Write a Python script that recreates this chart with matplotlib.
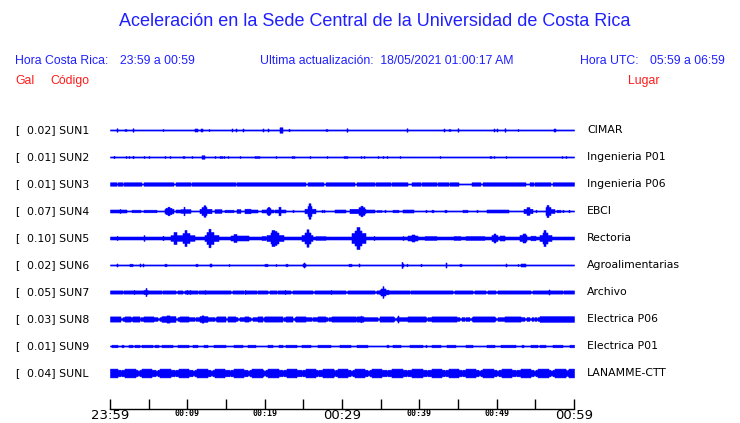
import numpy as np
import matplotlib
matplotlib.use("Agg")
import matplotlib.pyplot as plt
from matplotlib.transforms import blended_transform_factory

# ---------------- data ----------------
codes = ["SUN1", "SUN2", "SUN3", "SUN4", "SUN5", "SUN6", "SUN7", "SUN8", "SUN9", "SUNL"]
gal_max = ["0.02", "0.01", "0.01", "0.07", "0.10", "0.02", "0.05", "0.03", "0.01", "0.04"]
places = ["CIMAR", "Ingenieria P01", "Ingenieria P06", "EBCI", "Rectoria",
          "Agroalimentarias", "Archivo", "Electrica P06", "Electrica P01", "LANAMME-CTT"]

tick_minutes = [0, 5, 10, 15, 20, 25, 30, 35, 40, 45, 50, 55, 60]
tick_labels = ["23:59", "", "00:09", "", "00:19", "", "00:29", "", "00:39", "", "00:49", "", "00:59"]

# trace envelopes: background half-amplitude (px) and events (start min, end min, half-amplitude px)
sun1_base = 0.55
sun1_events = [(0.95, 0.95, 1.7), (1.9, 2.0, 1.0), (3.0, 3.0, 1.7), (6.8, 6.8, 1.0), (11.0, 11.2, 1.5),
               (11.8, 11.9, 1.5), (12.8, 12.8, 1.0), (15.8, 15.8, 1.5), (16.3, 16.3, 1.5), (17.2, 17.2, 1.5),
               (19.8, 19.8, 1.5), (20.4, 20.4, 1.5), (22.0, 22.2, 2.7), (23.1, 23.1, 1.3), (28.0, 28.0, 1.0),
               (30.7, 30.7, 1.7), (38.4, 38.4, 1.7), (43.2, 43.2, 1.5), (43.9, 43.9, 1.0), (45.0, 45.0, 1.7),
               (49.6, 49.6, 1.5), (50.1, 50.1, 1.5), (51.1, 51.1, 1.7), (52.7, 52.7, 1.0), (57.4, 57.6, 1.5)]

sun2_base = 0.55
sun2_events = [(0.56, 0.56, 1.2), (2.1, 2.1, 1.0), (2.5, 2.5, 1.0), (3.0, 3.0, 1.3), (4.4, 4.4, 1.0),
               (5.0, 5.0, 1.0), (7.1, 7.1, 1.0), (7.7, 7.7, 1.0), (9.4, 9.4, 1.0), (9.6, 9.6, 1.0),
               (10.6, 10.6, 1.0), (11.9, 12.2, 1.7), (13.6, 13.6, 1.0), (14.2, 14.5, 1.0), (14.7, 14.7, 1.0),
               (15.3, 15.3, 1.0), (16.8, 16.8, 1.0), (18.8, 19.3, 1.0), (21.5, 21.5, 1.0), (23.6, 23.8, 1.0),
               (25.9, 25.9, 1.0), (28.1, 28.1, 1.0), (30.3, 30.6, 1.0), (32.4, 32.4, 1.0), (32.8, 32.8, 1.0),
               (34.7, 34.7, 1.0), (35.3, 35.3, 1.0), (35.8, 35.8, 1.0), (37.5, 37.5, 1.0), (42.7, 42.7, 1.0),
               (49.2, 49.2, 1.0), (49.6, 49.6, 1.0), (51.2, 51.2, 1.0), (58.5, 58.5, 1.0), (59.0, 59.0, 1.0)]

sun3_base = 0.55
sun3_events = [(0.0, 0.78, 1.7), (1.0, 1.5, 1.7), (1.85, 3.45, 1.7), (3.66, 4.0, 1.7), (4.4, 5.8, 1.7),
               (6.0, 8.2, 1.7), (8.5, 10.3, 1.7), (10.6, 11.2, 1.7), (11.4, 16.2, 1.7), (16.4, 18.3, 1.7),
               (18.5, 22.6, 1.7), (22.8, 25.2, 1.7), (25.6, 27.6, 1.7), (28.0, 31.6, 1.7), (32.0, 34.1, 1.7),
               (34.4, 36.2, 1.7), (36.5, 38.4, 1.7), (39.0, 40.1, 1.7), (40.3, 41.2, 1.7), (41.4, 42.2, 1.7),
               (42.4, 43.7, 1.7), (44.0, 45.0, 1.7), (46.8, 47.8, 1.7), (48.2, 49.1, 1.7), (49.3, 53.7, 1.7),
               (54.3, 54.7, 1.7), (54.9, 56.9, 1.7), (57.3, 60.0, 1.7)]

sun4_base = 0.55
sun4_events = [(0.0, 2.0, 1.5), (1.3, 1.3, 2.0), (2.9, 3.9, 1.3), (4.4, 5.4, 1.3), (5.6, 6.0, 1.3),
               (7.1, 8.2, 2.3), (7.3, 7.9, 3.2), (7.55, 7.65, 4.3), (8.6, 9.2, 1.5), (9.2, 10.3, 1.8),
               (9.6, 9.6, 4.3), (11.6, 13.1, 2.2), (11.95, 12.45, 4.0), (12.15, 12.25, 5.7), (13.6, 14.4, 1.8),
               (14.9, 15.9, 1.3), (16.4, 16.8, 1.8), (17.5, 18.1, 2.3), (18.3, 19.0, 1.5), (19.7, 21.1, 1.5),
               (20.3, 20.7, 2.8), (20.45, 20.55, 4.0), (21.4, 22.6, 1.5), (21.85, 21.95, 4.3), (23.7, 23.7, 1.3),
               (25.2, 26.5, 2.3), (25.55, 26.05, 5.0), (25.75, 25.85, 7.7), (27.4, 27.4, 1.3), (27.7, 27.7, 1.3),
               (29.1, 30.4, 1.5), (31.0, 33.0, 2.2), (32.2, 32.8, 3.8), (32.4, 32.55, 5.3), (33.0, 34.1, 1.5),
               (34.5, 35.0, 1.0), (35.6, 35.6, 1.3), (36.6, 37.3, 1.3), (37.9, 39.2, 1.5), (40.9, 40.9, 1.3),
               (41.7, 41.7, 1.3), (43.3, 43.5, 1.3), (45.6, 46.1, 1.3), (47.4, 47.4, 1.3), (48.7, 51.5, 1.5),
               (53.6, 54.5, 2.2), (53.9, 54.2, 3.8), (55.1, 55.1, 1.3), (56.35, 56.85, 4.0), (56.5, 56.6, 6.0),
               (56.9, 57.4, 2.0), (57.8, 58.2, 1.3), (58.6, 58.6, 1.3), (59.4, 59.4, 1.3)]

sun5_base = 1.5
sun5_events = [(0.86, 0.86, 2.0), (4.4, 4.4, 2.8), (6.9, 6.9, 2.2), (7.9, 9.2, 2.8), (8.3, 8.5, 6.0),
               (9.3, 10.9, 2.8), (9.5, 10.2, 5.0), (9.75, 9.85, 8.0), (12.3, 14.0, 3.0), (12.6, 13.3, 6.0),
               (12.85, 12.95, 9.3), (15.7, 17.9, 2.5), (16.1, 16.3, 4.0), (19.6, 20.0, 2.0), (20.3, 22.4, 3.0),
               (20.8, 21.7, 5.5), (21.0, 21.2, 8.0), (21.4, 21.5, 7.0), (24.8, 26.1, 3.0), (25.25, 25.85, 5.5),
               (25.45, 25.55, 8.7), (26.7, 27.8, 1.8), (31.3, 33.0, 5.0), (31.7, 32.5, 7.5), (32.0, 32.15, 11.0),
               (34.1, 34.1, 2.0), (37.9, 37.9, 2.0), (38.6, 39.7, 2.5), (39.1, 39.3, 3.5), (40.7, 42.2, 1.9),
               (44.5, 45.2, 1.9), (46.1, 48.3, 1.9), (49.4, 50.0, 3.0), (49.6, 49.8, 4.5), (50.4, 50.9, 2.5),
               (53.0, 53.8, 3.0), (53.4, 53.6, 4.5), (54.5, 54.9, 2.3), (55.6, 57.0, 3.0), (55.95, 56.5, 5.5),
               (56.1, 56.25, 8.0)]

sun6_base = 0.55
sun6_events = [(0.86, 0.86, 1.5), (2.6, 2.8, 1.3), (3.9, 3.9, 1.5), (4.3, 4.3, 1.5), (7.1, 7.3, 1.3),
               (11.1, 11.3, 1.3), (13.0, 13.0, 1.5), (15.4, 15.4, 1.0), (20.1, 20.3, 1.3), (21.5, 21.5, 1.0),
               (22.7, 22.9, 1.3), (24.95, 25.25, 1.5), (25.1, 25.1, 2.5), (30.9, 31.1, 1.3), (32.2, 32.2, 1.5),
               (37.7, 37.9, 1.5), (37.8, 37.8, 3.0), (38.4, 38.4, 1.3), (40.2, 40.2, 1.3), (43.5, 43.5, 2.5),
               (45.2, 45.4, 1.3), (51.2, 51.2, 1.5), (52.7, 52.7, 1.0), (53.2, 53.6, 1.5)]

sun7_base = 1.6
sun7_gaps = [1.7, 6.7, 8.6, 9.5, 11.4, 12.3, 15.7, 17.4, 19.0, 20.5, 21.6, 23.5, 26.3, 30.6, 34.3,
             38.8, 44.4, 47.0, 48.7, 50.0, 54.5, 58.6]
sun7_events = [(3.1, 3.1, 2.0), (4.6, 4.6, 4.0), (4.4, 4.8, 2.2), (9.9, 9.9, 2.0), (10.3, 10.3, 2.0),
               (12.3, 12.3, 1.8), (17.5, 17.5, 2.0), (22.6, 22.6, 2.0), (28.6, 28.6, 2.0), (34.9, 36.0, 2.3),
               (35.1, 35.5, 3.5), (35.25, 35.35, 5.8), (56.8, 56.8, 2.5)]

sun8_base = 1.8
sun8_gaps = [1.5, 3.8, 6.25, 8.6, 11.0, 13.6, 15.1, 16.6, 18.3, 19.8, 22.4, 23.7, 26.1, 28.2,
             34.7, 36.9, 41.0, 45.3, 45.9, 46.6, 50.0, 53.7, 54.4, 54.8, 55.2]
sun8_events = [(0.0, 1.3, 2.6), (1.9, 2.6, 2.6), (3.0, 3.7, 2.6), (4.4, 5.6, 2.6), (6.7, 8.4, 2.8),
               (7.4, 7.6, 3.6), (9.0, 10.1, 2.6), (11.6, 12.5, 2.8), (11.95, 12.05, 3.6), (13.8, 14.9, 2.6),
               (15.3, 16.2, 2.6), (17.5, 17.9, 2.6), (19.2, 19.6, 2.6), (20.0, 20.9, 2.6), (21.1, 22.2, 2.6),
               (22.8, 23.5, 2.6), (24.1, 25.2, 2.6), (26.9, 27.8, 2.6), (28.7, 31.7, 2.6), (32.0, 32.7, 2.6),
               (32.4, 32.4, 3.3), (34.9, 36.6, 2.6), (37.3, 37.3, 3.5), (38.6, 40.7, 2.6), (41.6, 44.8, 2.6),
               (47.0, 49.6, 2.6), (51.1, 53.0, 2.6), (55.6, 60.0, 2.8)]

sun9_base = 0.55
sun9_events = [(0.2, 0.9, 1.3), (1.5, 1.7, 1.3), (2.4, 2.8, 1.3), (3.2, 3.7, 1.3), (4.1, 5.4, 1.3),
               (5.8, 6.25, 1.3), (6.7, 8.0, 1.3), (8.8, 10.1, 1.3), (10.8, 11.2, 1.3), (12.1, 12.5, 1.3),
               (13.4, 14.2, 1.3), (14.4, 14.9, 1.3), (16.0, 17.0, 1.3), (17.9, 18.8, 1.3), (20.5, 20.9, 1.3),
               (21.8, 22.2, 1.3), (22.8, 24.1, 1.3), (24.8, 25.9, 1.3), (26.9, 28.4, 1.3), (29.7, 31.0, 1.3),
               (31.9, 33.2, 1.3), (35.8, 36.0, 1.3), (36.6, 37.5, 1.3), (38.8, 40.3, 1.3), (40.9, 40.9, 1.3),
               (41.6, 42.7, 1.3), (43.6, 44.6, 1.3), (46.0, 46.8, 1.3), (48.7, 49.6, 1.3), (50.6, 52.4, 1.3),
               (53.3, 53.4, 1.3), (54.5, 55.2, 1.3), (55.6, 56.3, 1.3), (57.3, 58.4, 1.3), (59.5, 60.0, 1.3)]

sunl_base = 3.3
sunl_gaps = [1.4, 3.7, 6.0, 8.4, 10.8, 13.1, 15.5, 17.9, 20.0, 22.4, 24.8, 26.9, 29.1,
             31.2, 33.4, 35.8, 38.4, 41.0, 43.3, 45.5, 47.8, 50.1, 52.5, 54.9, 57.1, 59.1]
sunl_events = [(0.0, 0.9, 4.4), (2.0, 3.2, 4.4), (4.1, 5.3, 4.4), (6.5, 7.7, 4.4), (8.9, 10.1, 4.4),
               (11.3, 12.5, 4.4), (13.6, 14.8, 4.4), (16.0, 17.2, 4.4), (18.4, 19.6, 4.4), (20.5, 21.7, 4.4),
               (22.9, 24.1, 4.4), (25.3, 26.5, 4.4), (27.6, 28.8, 4.4), (29.5, 30.7, 4.4), (31.7, 32.9, 4.4),
               (33.9, 35.1, 4.4), (36.5, 37.7, 4.4), (39.1, 40.3, 4.4), (41.6, 42.8, 4.4), (43.8, 45.0, 4.4),
               (46.0, 47.2, 4.4), (48.3, 49.5, 4.4), (50.7, 51.9, 4.4), (53.1, 54.3, 4.4), (55.4, 56.6, 4.4),
               (57.6, 58.8, 4.4), (59.4, 60.0, 4.4)]

# (background, events, quiet moments, quiet half-amplitude)
traces = [
    (sun1_base, sun1_events, [], 0.5),
    (sun2_base, sun2_events, [], 0.5),
    (sun3_base, sun3_events, [], 0.5),
    (sun4_base, sun4_events, [], 0.5),
    (sun5_base, sun5_events, [], 0.5),
    (sun6_base, sun6_events, [], 0.5),
    (sun7_base, sun7_events, sun7_gaps, 0.8),
    (sun8_base, sun8_events, sun8_gaps, 0.8),
    (sun9_base, sun9_events, [], 0.5),
    (sunl_base, sunl_events, sunl_gaps, 2.4),
]

# ---------------- drawing ----------------
BLUE = "#0000ff"
TXT_BLUE = "#1f1fff"
RED = "#ff1a1a"
W, H = 740, 423
ROW_PX = 27.0

fig = plt.figure(figsize=(W / 100, H / 100), dpi=100)
fig.patch.set_facecolor("white")

ax = fig.add_axes([110 / W, 1 - 409 / H, 464 / W, (409 - 118) / H])
ax.set_xlim(0, 60)
ax.set_ylim((409 - 130) / ROW_PX, (118 - 130) / ROW_PX)

grid = np.linspace(0, 60, 465)
half_step = 60 / 464 / 2 + 0.005

for i, (base, events, gaps, gap_amp) in enumerate(traces):
    env = np.full_like(grid, base)
    for g in gaps:
        m = np.abs(grid - g) <= 0.1
        env[m] = gap_amp
    for s, e, a in events:
        m = (grid >= s - half_step) & (grid <= e + half_step)
        env[m] = np.maximum(env[m], a)
    env = env / ROW_PX
    ax.fill_between(grid, i - env, i + env, step="mid", color=BLUE, linewidth=0.4, edgecolor=BLUE)

for side in ["top", "left", "right"]:
    ax.spines[side].set_visible(False)
ax.spines["bottom"].set_linewidth(1.0)
ax.set_yticks([])
ax.set_xticks(tick_minutes)
ax.set_xticklabels(tick_labels)
ax.tick_params(axis="x", direction="in", length=7, width=1.0, pad=0.2, colors="black")
for lbl in ax.get_xticklabels():
    if lbl.get_text() in ("23:59", "00:29", "00:59"):
        lbl.set_fontsize(9.5)
        lbl.set_family("DejaVu Sans")
    else:
        lbl.set_fontsize(6)
        lbl.set_fontweight("bold")
        lbl.set_family("DejaVu Sans Mono")

# station labels
tr = blended_transform_factory(fig.transFigure, ax.transData)
for i, (c, g, p) in enumerate(zip(codes, gal_max, places)):
    ax.text(15 / W, i, "[", transform=tr, fontsize=7.8, family="DejaVu Sans", va="center", ha="left")
    ax.text(27 / W, i, f"{g}] {c}", transform=tr, fontsize=7.8, family="DejaVu Sans", va="center", ha="left")
    ax.text(587 / W, i, p, transform=tr, fontsize=7.8, family="DejaVu Sans", va="center", ha="left")


def ftext(x, y, s, **kw):
    fig.text(x / W, 1 - y / H, s, **kw)


hdr = dict(fontsize=8.8, family="Liberation Sans", va="center", ha="left", color=TXT_BLUE)
ftext(375, 22, "Aceleración en la Sede Central de la Universidad de Costa Rica",
      fontsize=13, family="Liberation Sans", va="center", ha="center", color=TXT_BLUE)
ftext(15, 61, "Hora Costa Rica:", **hdr)
ftext(120, 61, "23:59 a 00:59", **hdr)
ftext(260, 61, "Ultima actualización:  18/05/2021 01:00:17 AM", **hdr)
ftext(580, 61, "Hora UTC:", **hdr)
ftext(650, 61, "05:59 a 06:59", **hdr)
red = dict(fontsize=8.8, family="Liberation Sans", va="center", ha="left", color=RED)
ftext(15, 81, "Gal", **red)
ftext(50, 81, "Código", **red)
ftext(628, 81, "Lugar", **red)

fig.savefig("out.png", dpi=100, facecolor="white")
